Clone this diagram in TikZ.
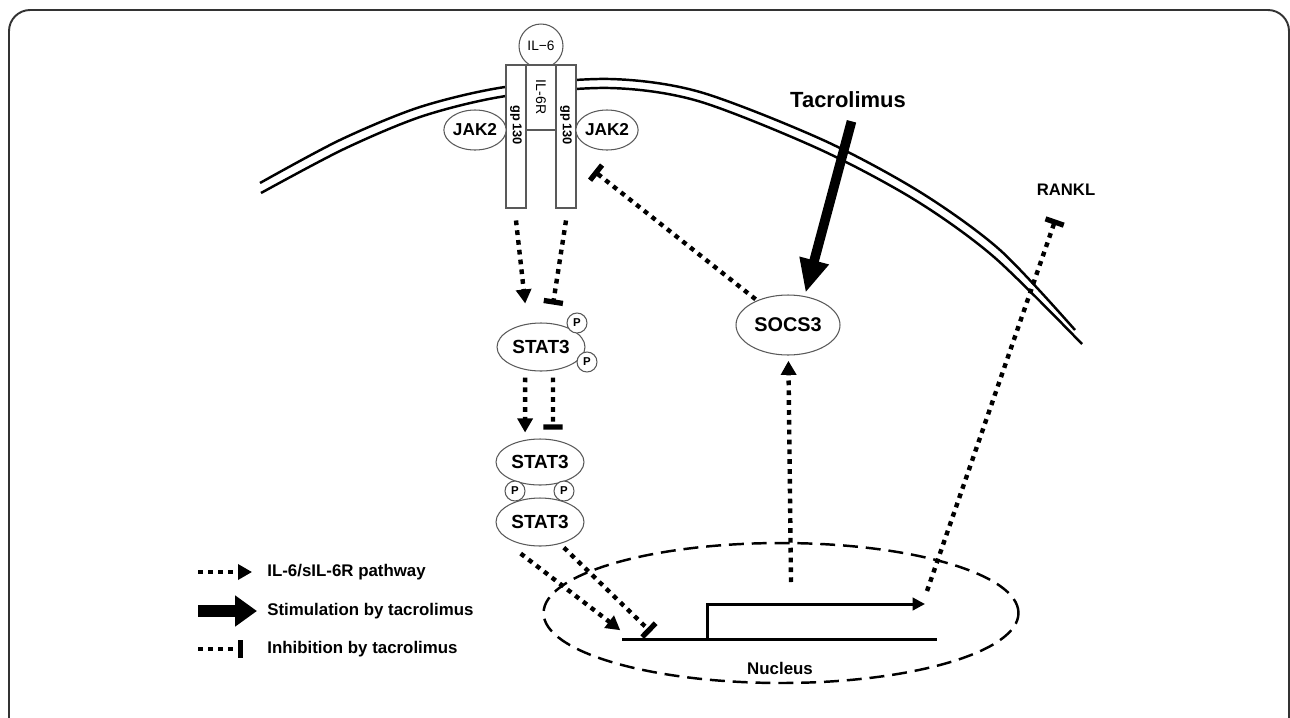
\documentclass[tikz,border=0pt]{standalone}
\usepackage{fontspec}
\setmainfont{Liberation Sans}
\usetikzlibrary{shapes.geometric,arrows.meta}

\tikzset{
  prot/.style={ellipse, draw=black!65, fill=white, line width=0.6pt, inner sep=0pt,
    font=\bfseries\fontsize{10.8}{12}\selectfont},
  pcirc/.style={circle, draw=black!65, fill=white, line width=0.6pt, minimum size=0.4cm,
    inner sep=0pt, font=\bfseries\fontsize{6.5}{7}\selectfont},
  recbox/.style={rectangle, draw=black!65, fill=white, line width=0.6pt, inner sep=0pt},
  ilpath/.style={line width=2.5pt, dash pattern=on 2.7pt off 2.9pt,
    -{Triangle[width=8.5pt,length=8pt]}},
  inhib/.style={line width=2.5pt, dash pattern=on 2.7pt off 2.9pt,
    -{Bar[width=11pt,line width=3pt]}},
  stim/.style={line width=5.5pt, -{Triangle[width=16pt,length=19pt]}},
  membr/.style={line width=1.4pt},
  gene/.style={line width=1.7pt},
  legtext/.style={anchor=west, inner sep=0pt, font=\bfseries\fontsize{9.6}{11}\selectfont},
}

\begin{document}
\begin{tikzpicture}[x=0.02cm, y=-0.02cm]
    \useasboundingbox (0,0) rectangle (1290,717);
    % frame
    \draw[line width=1.1pt, black!80, rounded corners=12pt] (9,10) rectangle (1289,760);

    % cell membrane
    \draw[membr] plot[smooth] coordinates {(260,183) (340,140) (420,107) (505,87) (610,79)
      (700,92) (823,140) (920,192) (1000,250) (1075,330)};
    \draw[membr] plot[smooth] coordinates {(261,193) (344,149) (423,116) (506,96) (610,88)
      (698,101) (819,149) (915,200) (994,257) (1082,344)};

    % receptor complex
    \node[circle, draw=black!65, fill=white, line width=0.6pt, minimum size=0.88cm, inner sep=0pt,
      font=\fontsize{7.8}{9}\selectfont] (il6) at (541,46) {IL−6};
    \node[recbox, minimum width=0.4cm, minimum height=2.86cm] (gpL) at (516,136.5) {};
    \node[recbox, minimum width=0.4cm, minimum height=2.86cm] (gpR) at (566,136.5) {};
    \node[recbox, minimum width=0.6cm, minimum height=1.3cm] (il6r) at (541,97.5) {};
    \node[rotate=-90, inner sep=0pt, font=\bfseries\fontsize{7.3}{8}\selectfont] (gpLt) at (516,125) {gp\,130};
    \node[rotate=-90, inner sep=0pt, font=\bfseries\fontsize{7.3}{8}\selectfont] (gpRt) at (566,125) {gp\,130};
    \node[rotate=-90, inner sep=0pt, font=\fontsize{8}{9}\selectfont] (il6rt) at (541,97) {IL-6R};
    \node[prot, minimum width=1.16cm, minimum height=0.8cm, font=\bfseries\fontsize{9.8}{11}\selectfont] (jakL) at (475,130) {JAK2};
    \node[prot, minimum width=1.16cm, minimum height=0.8cm, font=\bfseries\fontsize{9.8}{11}\selectfont] (jakR) at (607,130) {JAK2};

    % STAT3 monomer and dimer
    \node[prot, minimum width=1.76cm, minimum height=0.96cm] (stat1) at (541,347) {STAT3};
    \node[pcirc] (p1) at (577,323) {P};
    \node[pcirc] (p2) at (587,362) {P};
    \node[prot, minimum width=1.76cm, minimum height=0.92cm] (stA) at (540,462) {STAT3};
    \node[prot, minimum width=1.76cm, minimum height=0.96cm] (stB) at (540,522) {STAT3};
    \node[pcirc] (p3) at (515,491) {P};
    \node[pcirc] (p4) at (564,491) {P};

    % SOCS3, tacrolimus, RANKL
    \node[prot, minimum width=2.08cm, minimum height=1.2cm, font=\bfseries\fontsize{11.3}{13}\selectfont] (socs) at (788,325) {SOCS3};
    \node[font=\bfseries\fontsize{12.5}{14}\selectfont] (tac) at (848,100) {Tacrolimus};
    \node[font=\bfseries\fontsize{9.5}{11}\selectfont] (rankl) at (1066,190) {RANKL};

    % nucleus and gene
    \node[ellipse, draw, line width=1.4pt, dash pattern=on 8.5pt off 4.5pt,
      minimum width=9.5cm, minimum height=2.8cm] (nuc) at (781,613) {};
    \node[font=\bfseries\fontsize{9.6}{11}\selectfont] (nuct) at (780,668) {Nucleus};
    \coordinate (gs) at (622,639);
    \coordinate (ge) at (937,639);
    \coordinate (tss) at (707,639);
    \coordinate (tssEnd) at (925,604);
    \draw[gene] (gs) -- (ge);
    \draw[gene, -{Triangle[width=7pt,length=7pt]}] (tss) |- (tssEnd);

    % signalling
    \draw[ilpath] ([yshift=-6.8pt]gpL.south) -- ([xshift=-9pt,yshift=10.8pt]stat1.north);
    \draw[inhib] ([yshift=-6.8pt]gpR.south) -- ([xshift=6.8pt,yshift=10.2pt]stat1.north);
    \draw[ilpath] ([xshift=-9pt,yshift=-3.4pt]stat1.south) -- ([xshift=-8.5pt,yshift=3.4pt]stA.north);
    \draw[inhib] ([xshift=6.8pt,yshift=-3.4pt]stat1.south) -- ([xshift=7.4pt,yshift=5pt]stA.north);
    \draw[ilpath] ([xshift=-11pt,yshift=-4pt]stB.south) -- ([xshift=-1pt,yshift=5pt]gs);
    \draw[inhib] ([xshift=13.6pt,yshift=-0.6pt]stB.south) -- ([xshift=16.4pt,yshift=4pt]gs);

    \coordinate (socsUp) at (791,582);
    \draw[ilpath, shorten >=3pt] (socsUp) -- (socs);
    \coordinate (jakBar) at (594,171);
    \draw[inhib, shorten <=1pt] (socs) -- (jakBar);
    \draw[stim] ([xshift=2pt,yshift=-4pt]tac.south) -- ([xshift=10pt,yshift=1pt]socs.north);
    \coordinate (rkStart) at (927,591);
    \draw[inhib] (rkStart) -- ([xshift=-6pt,yshift=-10pt]rankl.south);

    % legend
    \node[legtext] (leg1) at (267,572) {IL-6/sIL-6R pathway};
    \node[legtext] (leg2) at (267,611) {Stimulation by tacrolimus};
    \node[legtext] (leg3) at (267,649) {Inhibition by tacrolimus};
    \draw[ilpath] ([xshift=-39pt]leg1.west) -- ([xshift=-8.5pt]leg1.west);
    \draw[line width=6.8pt, -{Triangle[width=17pt,length=12.5pt]}] ([xshift=-39pt]leg2.west) -- ([xshift=-5.7pt]leg2.west);
    \draw[inhib, -{Bar[width=10pt,line width=3pt]}] ([xshift=-39pt]leg3.west) -- ([xshift=-13.6pt]leg3.west);
\end{tikzpicture}
\end{document}
